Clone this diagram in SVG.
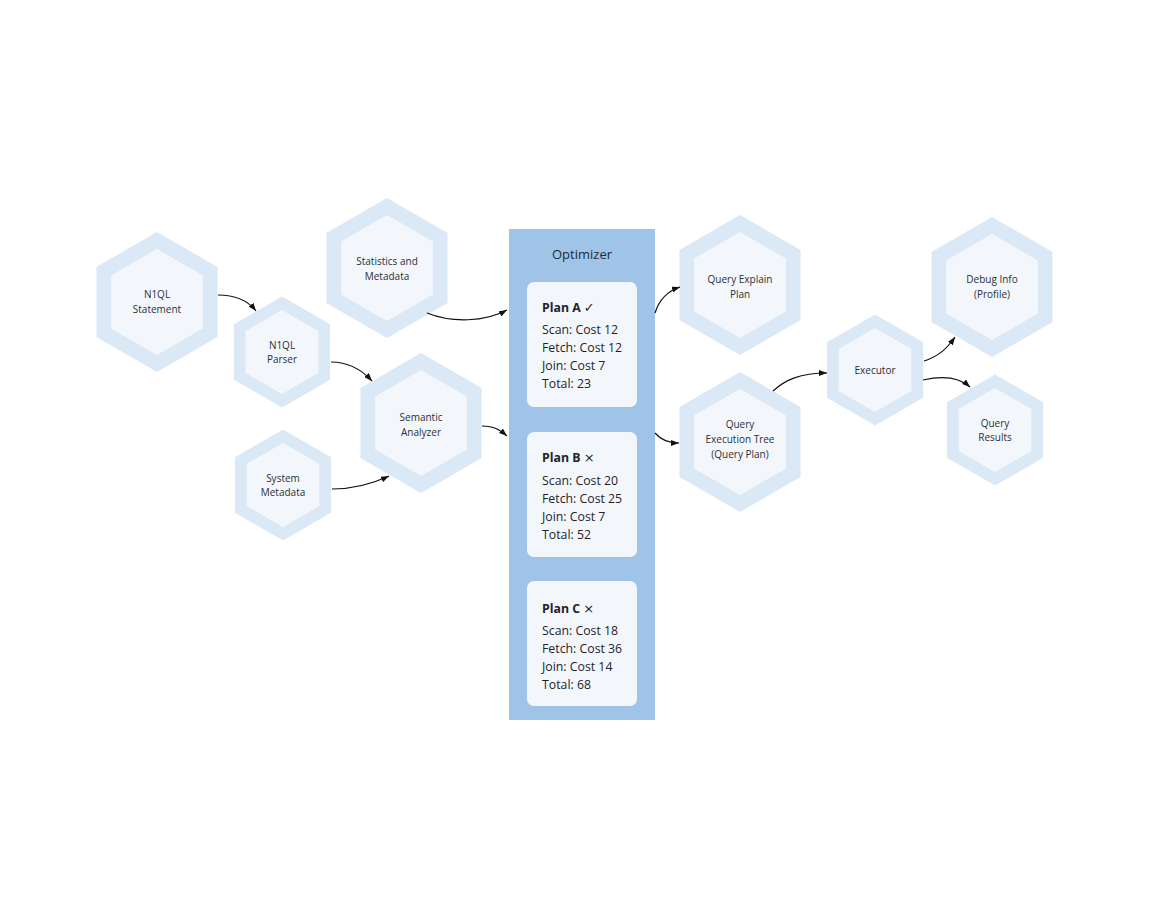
<svg xmlns="http://www.w3.org/2000/svg" xmlns:xlink="http://www.w3.org/1999/xlink" width="1150" height="920" viewBox="0 0 1150 920">
<style>
.ho{fill:#dbe8f5}
.hi{fill:#f3f7fc}
.t{font-family:"Open Sans","Noto Sans","Liberation Sans",sans-serif;font-size:10px;fill:#2a2f36;text-anchor:middle}
.pt{font-family:"Open Sans","Noto Sans","Liberation Sans",sans-serif;font-size:12.3px;fill:#1f2329}
.pb{font-weight:bold}
.sym{font-family:"DejaVu Sans",sans-serif;font-size:13px;font-weight:normal}
.opt{font-family:"Open Sans","Noto Sans","Liberation Sans",sans-serif;font-size:13px;fill:#1f2a3a;text-anchor:middle}
.card{fill:#f3f7fc}
.c{fill:none;stroke:#111;stroke-width:1.2;marker-end:url(#ah)}
</style>
<defs>
<marker id="ah" viewBox="0 0 8 6" refX="8" refY="3" markerWidth="8" markerHeight="6" markerUnits="userSpaceOnUse" orient="auto">
<path d="M0,0 L8,3 L0,6 z" fill="#111"/>
</marker>
<g id="hexL"><polygon class="ho" points="0,-70 60.6,-35 60.6,35 0,70 -60.6,35 -60.6,-35"/><polygon class="hi" points="0,-53 45.9,-26.5 45.9,26.5 0,53 -45.9,26.5 -45.9,-26.5"/></g>
<g id="hexS"><polygon class="ho" points="0,-55.5 48.1,-27.75 48.1,27.75 0,55.5 -48.1,27.75 -48.1,-27.75"/><polygon class="hi" points="0,-42 36.4,-21 36.4,21 0,42 -36.4,21 -36.4,-21"/></g>
</defs>
<rect width="1150" height="920" fill="#ffffff"/>

<g id="optimizer">
<rect x="509" y="229" width="146" height="491" fill="#9fc4e7"/>
<text class="opt" x="582" y="259">Optimizer</text>
</g>
<g id="planA">
<rect class="card" x="527" y="282" width="110" height="125" rx="7"/>
<text class="pt pb" x="542" y="312">Plan A <tspan class="sym">✓</tspan></text>
<text class="pt" x="542" y="334">Scan: Cost 12</text>
<text class="pt" x="542" y="352">Fetch: Cost 12</text>
<text class="pt" x="542" y="370">Join: Cost 7</text>
<text class="pt" x="542" y="388">Total: 23</text>
</g>
<g id="planB">
<rect class="card" x="527" y="432" width="110" height="125" rx="7"/>
<text class="pt pb" x="542" y="462">Plan B <tspan class="sym">×</tspan></text>
<text class="pt" x="542" y="485">Scan: Cost 20</text>
<text class="pt" x="542" y="503">Fetch: Cost 25</text>
<text class="pt" x="542" y="521">Join: Cost 7</text>
<text class="pt" x="542" y="539">Total: 52</text>
</g>
<g id="planC">
<rect class="card" x="527" y="581" width="110" height="125" rx="7"/>
<text class="pt pb" x="542" y="613">Plan C <tspan class="sym">×</tspan></text>
<text class="pt" x="542" y="635">Scan: Cost 18</text>
<text class="pt" x="542" y="653">Fetch: Cost 36</text>
<text class="pt" x="542" y="671">Join: Cost 14</text>
<text class="pt" x="542" y="689">Total: 68</text>
</g>

<g id="n1ql-statement">
<use xlink:href="#hexL" href="#hexL" transform="translate(157,302)"/>
<text class="t" x="157" y="298">N1QL</text>
<text class="t" x="157" y="313">Statement</text>
</g>
<g id="n1ql-parser">
<use xlink:href="#hexS" href="#hexS" transform="translate(282,352)"/>
<text class="t" x="282" y="349">N1QL</text>
<text class="t" x="282" y="363">Parser</text>
</g>
<g id="statistics">
<use xlink:href="#hexL" href="#hexL" transform="translate(387,268)"/>
<text class="t" x="387" y="265">Statistics and</text>
<text class="t" x="387" y="280">Metadata</text>
</g>
<g id="semantic">
<use xlink:href="#hexL" href="#hexL" transform="translate(421,423)"/>
<text class="t" x="421" y="421">Semantic</text>
<text class="t" x="421" y="436">Analyzer</text>
</g>
<g id="system-metadata">
<use xlink:href="#hexS" href="#hexS" transform="translate(283,485)"/>
<text class="t" x="283" y="482">System</text>
<text class="t" x="283" y="496">Metadata</text>
</g>
<g id="query-explain">
<use xlink:href="#hexL" href="#hexL" transform="translate(740,285)"/>
<text class="t" x="740" y="283">Query Explain</text>
<text class="t" x="740" y="298">Plan</text>
</g>
<g id="query-execution-tree">
<use xlink:href="#hexL" href="#hexL" transform="translate(740,442)"/>
<text class="t" x="740" y="428">Query</text>
<text class="t" x="740" y="443">Execution Tree</text>
<text class="t" x="740" y="458">(Query Plan)</text>
</g>
<g id="executor">
<use xlink:href="#hexS" href="#hexS" transform="translate(875,370)"/>
<text class="t" x="875" y="374">Executor</text>
</g>
<g id="debug-info">
<use xlink:href="#hexL" href="#hexL" transform="translate(992,287)"/>
<text class="t" x="992" y="283">Debug Info</text>
<text class="t" x="992" y="298">(Profile)</text>
</g>
<g id="query-results">
<use xlink:href="#hexS" href="#hexS" transform="translate(995,430)"/>
<text class="t" x="995" y="427">Query</text>
<text class="t" x="995" y="441">Results</text>
</g>

<g id="connectors">
<path class="c" d="M218,295 C238,295 249,302 256,311"/>
<path class="c" d="M331,362 C350,362 362,370 372,381"/>
<path class="c" d="M427,313 C452,323 485,322 507,310"/>
<path class="c" d="M332,489 C355,489 372,484 389,476"/>
<path class="c" d="M482,426 C494,426 500,430 507,436"/>
<path class="c" d="M655,313 C659,300 668,291 680,287"/>
<path class="c" d="M655,433 C661,440 668,443 679,443"/>
<path class="c" d="M773,391 C785,380 800,373 827,373"/>
<path class="c" d="M924,361 C940,356 948,347 955,337"/>
<path class="c" d="M923,380 C945,375 960,378 970,387"/>
</g>
</svg>
